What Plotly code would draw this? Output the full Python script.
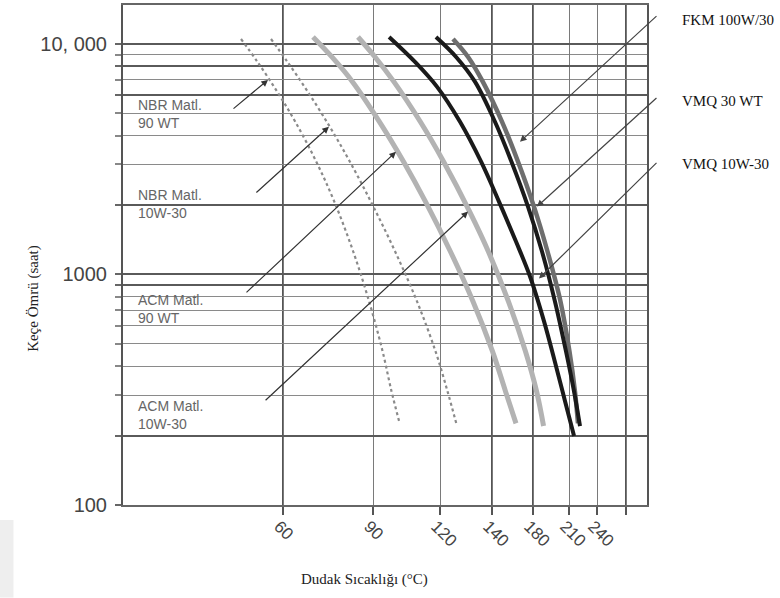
import numpy as np
import plotly.graph_objects as go

# Lip-temperature graduations and where each one sits on the (non-linear) drawn scale
AXIS_TEMPS = [60, 90, 120, 140, 180, 210, 240, 270]
AXIS_LABELS = ["60", "90", "120", "140", "180", "210", "240", ""]
AXIS_POS = [160, 250, 317, 369, 410, 446, 474, 503]
AXIS_SPAN = [0, 524]
HEAVY_TEMPS = [60, 140, 180, 270]

# Seal life grid (hours)
LIFE_MAJOR = [100, 200, 900, 1000, 2000, 6000, 8000, 10000]
LIFE_MAJOR_TEXT = ["100", "", "", "1000", "", "", "", "10, 000"]
LIFE_MINOR = [300, 400, 500, 600, 700, 800, 3000, 4000, 5000, 7000, 9000]

# Seal life curves: lip temperature (°C) vs life (hours)
nbr_90wt_temp = [46, 51.5, 58.1, 64.1, 71.1, 77.1, 83.4, 88.7, 94.3, 98.3, 102.0]
nbr_90wt_life = [10510, 8358, 6196, 4596, 3084, 2070, 1258, 764, 464, 311, 225]

nbr_10w30_temp = [56, 61.5, 68.3, 75.6, 82.3, 89.8, 99.9, 109.7, 118.0, 122.9, 126.3]
nbr_10w30_life = [10510, 8358, 6196, 4372, 3084, 2009, 1258, 764, 464, 311, 225]

acm_90wt_temp = [70, 76.3, 83.2, 92.9, 103.7, 113.5, 124.0, 132.7, 140.5, 153.2, 163.4]
acm_90wt_life = [10720, 8783, 6847, 4596, 3084, 2070, 1258, 764, 464, 311, 226]

acm_10w30_temp = [85, 90.9, 99.4, 111.2, 121.4, 131.4, 138.6, 156.0, 172.6, 183.0, 188.8]
acm_10w30_life = [10720, 8783, 6847, 4596, 3084, 1874, 1258, 764, 464, 311, 220]

vmq_10w30_temp = [97.2, 108.8, 118.7, 127.7, 135.8, 146.8, 163.4, 177.1, 189.2, 199.2, 206.7, 215.4]
vmq_10w30_life = [10720, 8358, 6515, 4596, 3084, 2070, 1389, 980, 626, 400, 282, 199]

vmq_30wt_temp = [118.2, 126.2, 133.5, 142.9, 159.0, 175.1, 187.5, 198.3, 207.5, 215.4, 221.8]
vmq_30wt_life = [10720, 8783, 6847, 4596, 3084, 1970, 1258, 764, 464, 311, 220]

fkm_temp = [125, 130.8, 136.5, 149.8, 165.4, 180.8, 192.1, 202.9, 210.5, 216.4, 219.6]
fkm_life = [10510, 8783, 6847, 4596, 3084, 1970, 1258, 764, 464, 311, 226]

# Where each label's arrow points (temperature, hours)
left_labels = ["NBR Matl.<br>90 WT", "NBR Matl.<br>10W-30", "ACM Matl.<br>90 WT", "ACM Matl.<br>10W-30"]
left_tip_temp = [55, 75.3, 100.3, 130.8]
left_tip_life = [6985, 4372, 3407, 1874]

right_labels = ["FKM 100W/30", "VMQ 30 WT", "VMQ 10W-30"]
right_tip_temp = [167.3, 183.3, 185.0]
right_tip_life = [3765, 1970, 961]


def temp_scale(t):
    """Map temperatures onto the drawn scale (linear extension below 60 °C)."""
    t = np.asarray(t, dtype=float)
    pos = np.interp(t, AXIS_TEMPS, AXIS_POS)
    slope = (AXIS_POS[1] - AXIS_POS[0]) / (AXIS_TEMPS[1] - AXIS_TEMPS[0])
    low = t < AXIS_TEMPS[0]
    pos[low] = AXIS_POS[0] + (t[low] - AXIS_TEMPS[0]) * slope
    return pos


fig = go.Figure()

curves = [
    (nbr_90wt_temp, nbr_90wt_life, dict(color="#8a8a8a", width=2.2, dash="dot")),
    (nbr_10w30_temp, nbr_10w30_life, dict(color="#8a8a8a", width=2.2, dash="dot")),
    (acm_90wt_temp, acm_90wt_life, dict(color="#b3b3b3", width=5)),
    (acm_10w30_temp, acm_10w30_life, dict(color="#b3b3b3", width=5)),
    (fkm_temp, fkm_life, dict(color="#6e6e6e", width=4.5)),
    (vmq_30wt_temp, vmq_30wt_life, dict(color="#1a1a1a", width=4)),
    (vmq_10w30_temp, vmq_10w30_life, dict(color="#1a1a1a", width=4)),
]
for temps, life, style in curves:
    fig.add_trace(go.Scatter(
        x=temp_scale(temps), y=life, mode="lines",
        line=dict(shape="spline", smoothing=1.0, **style),
        showlegend=False, hoverinfo="skip",
    ))

sans = "Liberation Sans, Arial, sans-serif"
serif = "Liberation Serif, Times New Roman, serif"

annotations = []

# Left-hand material labels with their arrows
label_centers = [0.782, 0.602, 0.393, 0.181]
left_offsets = [(-36, 30), (-74, 67), (-151, 142), (-204, 190)]
for text, yc in zip(left_labels, label_centers):
    annotations.append(dict(
        text=text, xref="paper", yref="paper", x=0.025, y=yc,
        xanchor="left", yanchor="middle", align="left", showarrow=False,
        font=dict(family=sans, size=14, color="#666666"),
    ))
for t, h, (ax, ay) in zip(left_tip_temp, left_tip_life, left_offsets):
    annotations.append(dict(
        x=float(temp_scale([t])[0]), y=np.log10(h), xref="x", yref="y",
        text="", showarrow=True, ax=ax, ay=ay,
        arrowhead=2, arrowsize=1.1, arrowwidth=1.2, arrowcolor="#333333",
    ))

# Right-hand compound labels with their arrows
right_y = [0.970, 0.807, 0.681]
right_offsets = [(138, -127), (121, -110), (119, -117)]
for text, yc in zip(right_labels, right_y):
    annotations.append(dict(
        text=text, xref="paper", yref="paper", x=1.063, y=yc,
        xanchor="left", yanchor="middle", showarrow=False,
        font=dict(family=serif, size=15, color="#111111"),
    ))
for t, h, (ax, ay) in zip(right_tip_temp, right_tip_life, right_offsets):
    annotations.append(dict(
        x=float(temp_scale([t])[0]), y=np.log10(h), xref="x", yref="y",
        text="", showarrow=True, ax=ax, ay=ay,
        arrowhead=2, arrowsize=1.1, arrowwidth=1.2, arrowcolor="#444444",
    ))

# Axis titles
annotations.append(dict(
    text="Dudak Sıcaklığı (°C)", xref="paper", yref="paper", x=0.46, y=-0.149,
    xanchor="center", yanchor="middle", showarrow=False,
    font=dict(family=serif, size=15, color="#222222"),
))
annotations.append(dict(
    text="Keçe Ömrü (saat)", xref="paper", yref="paper", x=-0.172, y=0.414,
    xanchor="center", yanchor="middle", showarrow=False, textangle=-90,
    font=dict(family=serif, size=15, color="#222222"),
))

fig.update_layout(
    width=780, height=598,
    margin=dict(l=123, r=133, t=3, b=93),
    paper_bgcolor="white", plot_bgcolor="white",
    annotations=annotations,
    shapes=[dict(type="rect", xref="paper", yref="paper",
                 x0=-0.2347, x1=-0.209, y0=-0.185, y1=-0.03,
                 fillcolor="#eeeeee", line=dict(width=0), layer="below")],
)

fig.update_xaxes(
    range=AXIS_SPAN,
    tickmode="array", tickvals=AXIS_POS, ticktext=AXIS_LABELS,
    tickangle=45, ticks="outside", ticklen=8, tickwidth=2, tickcolor="#555555",
    ticklabelshift=-4, ticklabelstandoff=-5,
    tickfont=dict(family=sans, size=17, color="#444444"),
    showgrid=True, gridcolor="#7a7a7a", gridwidth=1.3,
    minor=dict(tickmode="array", tickvals=list(temp_scale(HEAVY_TEMPS)),
               showgrid=True, gridcolor="#555555", gridwidth=2.2, ticks=""),
    showline=True, linecolor="#666666", linewidth=1.5, mirror=True,
    zeroline=False,
)

fig.update_yaxes(
    type="log", range=[2.0, 4.169],
    tickmode="array", tickvals=LIFE_MAJOR, ticktext=LIFE_MAJOR_TEXT,
    ticks="outside", ticklen=6, tickwidth=1.5, tickcolor="#666666",
    ticklabelstandoff=4,
    tickfont=dict(family=sans, size=20, color="#444444"),
    showgrid=True, gridcolor="#5a5a5a", gridwidth=2,
    minor=dict(tickmode="array", tickvals=LIFE_MINOR, showgrid=True,
               gridcolor="#8a8a8a", gridwidth=1.3, ticks="outside",
               ticklen=6, tickcolor="#888888"),
    showline=True, linecolor="#555555", linewidth=2, mirror=True,
    zeroline=False,
)

fig.write_html("out.html")
